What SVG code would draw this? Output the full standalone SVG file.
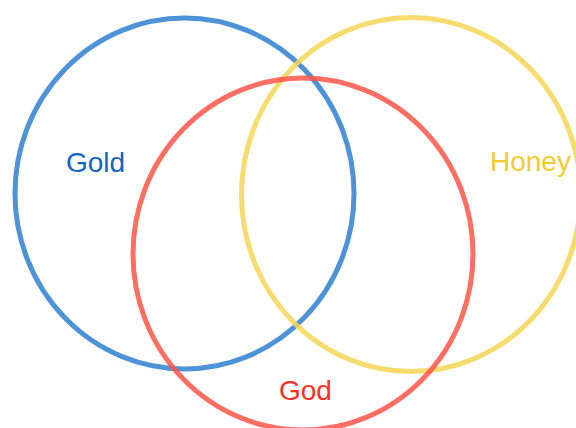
<svg xmlns="http://www.w3.org/2000/svg" width="576" height="428" viewBox="0 0 576 428">
<style>
.c{fill:none;stroke-width:5;opacity:0.85}
.t{font-family:"Liberation Sans",Arial,sans-serif;font-size:28px}
</style>
<rect width="576" height="428" fill="#ffffff"/>
<g id="gold">
<ellipse class="c" cx="184.5" cy="193.5" rx="169.5" ry="175.5" stroke="#2f7fd0"/>
<text class="t" x="66" y="172" fill="#1565c0">Gold</text>
</g>
<g id="honey">
<ellipse class="c" cx="411" cy="194.5" rx="169.5" ry="177" stroke="#f4d656"/>
<text class="t" x="490" y="171" fill="#f2cc2e">Honey</text>
</g>
<g id="god">
<ellipse class="c" cx="303" cy="254" rx="170" ry="176" stroke="#ff5548"/>
<text class="t" x="279" y="400" fill="#ff3026">God</text>
</g>
<g id="connectors"></g>
</svg>
